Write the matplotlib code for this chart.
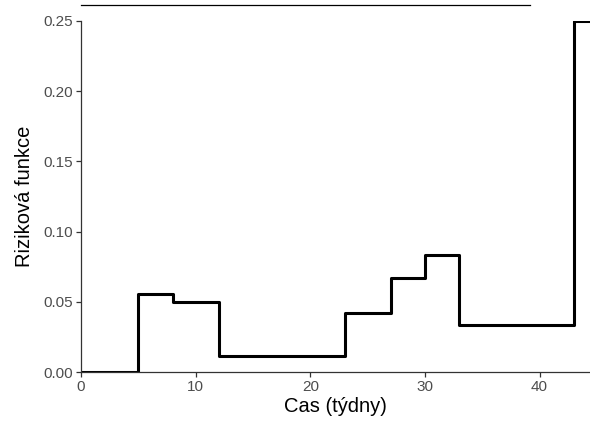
import matplotlib
matplotlib.use("Agg")
import matplotlib.pyplot as plt

plt.rcParams['font.family'] = ['Liberation Sans', 'DejaVu Sans']

# hazard step function (value holds from each time until the next)
times = [0, 5, 8, 12, 23, 27, 30, 33, 43, 45]
hazard = [0.0, 0.0556, 0.05, 0.0111, 0.0417, 0.0667, 0.0833, 0.0333, 0.25, 0.25]

# stray line above the panel (clipped part of the plot)
top_line_x = [0, 39.2]
top_line_y = [0.2614, 0.2614]

fig = plt.figure(figsize=(5.9, 4.25), dpi=100)
ax = fig.add_axes([0.1373, 0.1247, 0.8627, 0.826])

ax.step(times, hazard, where='post', color='black', lw=2.2)
ax.plot(top_line_x, top_line_y, color='black', lw=0.9, clip_on=False)

ax.set_xlim(0, 44.4)
ax.set_ylim(0, 0.25)
ax.set_xticks([0, 10, 20, 30, 40])
ax.set_yticks([0, 0.05, 0.10, 0.15, 0.20, 0.25])
ax.set_yticklabels(['0.00', '0.05', '0.10', '0.15', '0.20', '0.25'])

for s in ['top', 'right']:
    ax.spines[s].set_visible(False)
for s in ['left', 'bottom']:
    ax.spines[s].set_linewidth(0.9)
    ax.spines[s].set_color('#333333')
ax.tick_params(length=3.6, width=0.9, color='#333333', labelcolor='#4D4D4D',
               labelsize=11, pad=2)

ax.set_xlabel('Cas (týdny)', fontsize=14.5, labelpad=2)
ax.set_ylabel('Riziková funkce', fontsize=14.5, labelpad=7)

fig.savefig('out.png', dpi=100)
